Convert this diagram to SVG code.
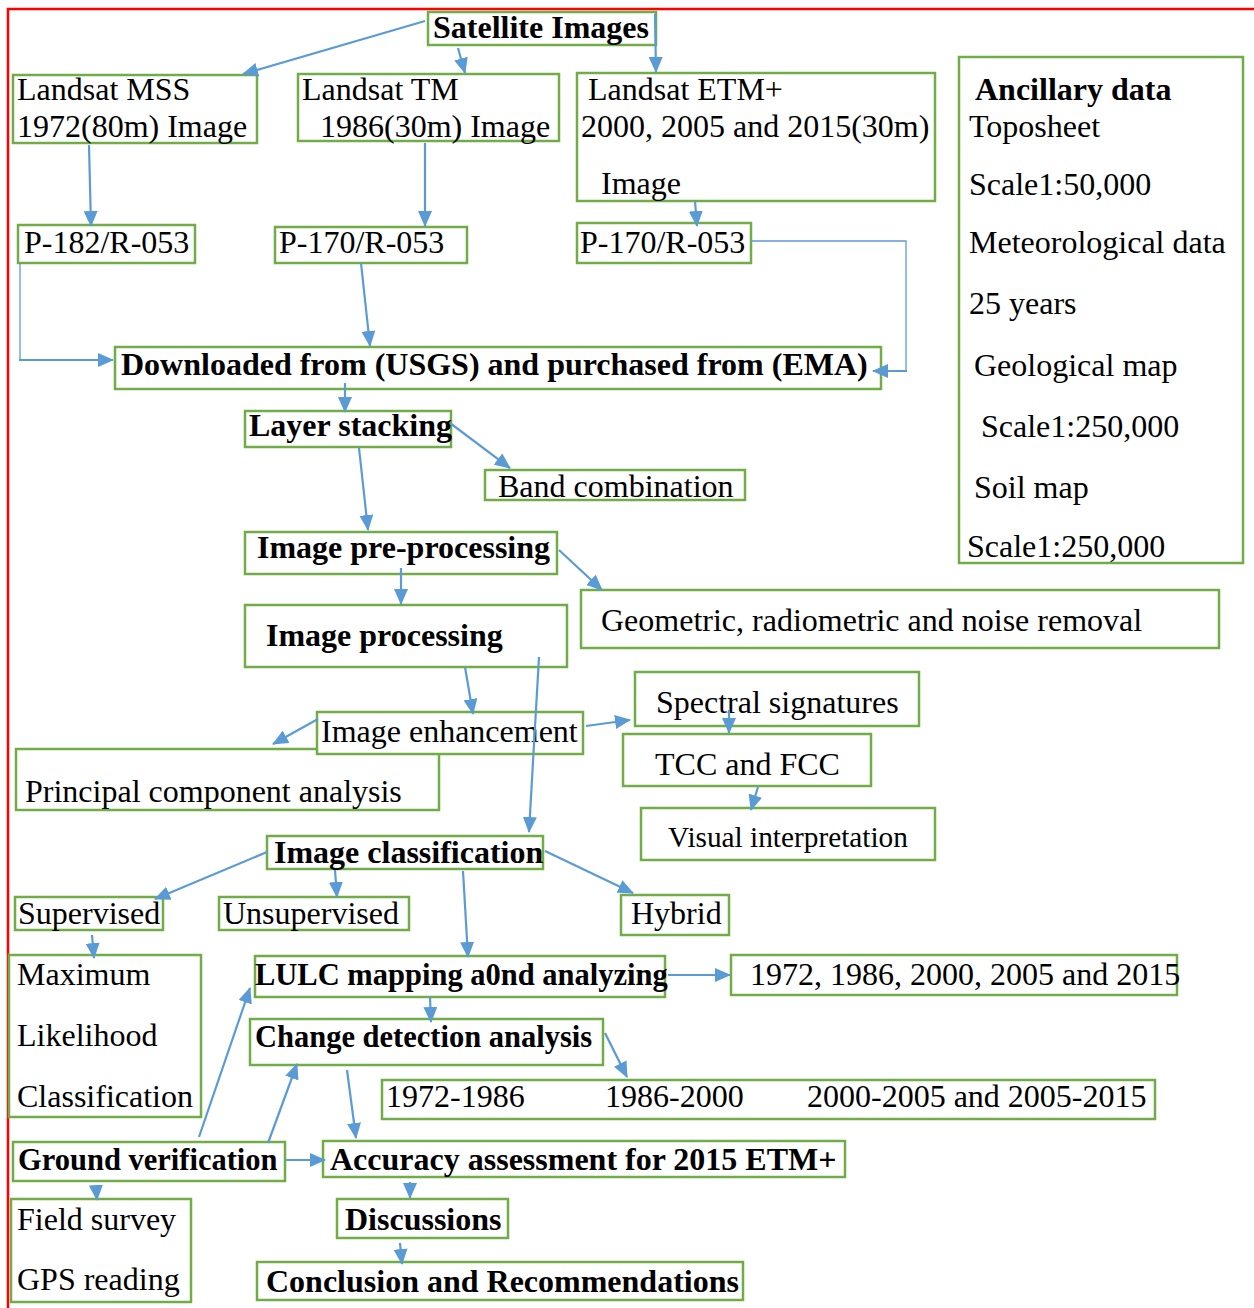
<svg xmlns="http://www.w3.org/2000/svg" width="1254" height="1308" viewBox="0 0 1254 1308">
<style>
.box{fill:#fff;stroke:#70AD47;stroke-width:2.5}
.t{font-family:"Liberation Serif","Times New Roman",serif;font-size:32px;fill:#000}
.b{font-weight:bold}
.s{font-size:30.5px}
.c{stroke:#5B9BD5;stroke-width:2.2;fill:none;marker-end:url(#ah)}
.thin{stroke:#5B9BD5;stroke-width:1.3;fill:none}
</style>
<defs>
<marker id="ah" markerUnits="userSpaceOnUse" markerWidth="16" markerHeight="14" refX="15" refY="7" orient="auto">
<path d="M0,0 L16,7 L0,14 z" fill="#5B9BD5"/>
</marker>
</defs>
<rect width="1254" height="1308" fill="#fff"/>
<path d="M1254,9 H8 V1308" fill="none" stroke="#FF0000" stroke-width="2.5"/>

<g id="satellite"><rect class="box" x="428" y="12" width="228" height="33"/><text class="t b" x="433" y="38">Satellite Images</text></g>
<g id="mss"><rect class="box" x="13" y="75" width="244" height="68"/><text class="t" x="17" y="100">Landsat MSS</text><text class="t" x="17" y="137">1972(80m) Image</text></g>
<g id="tm"><rect class="box" x="298" y="74" width="261" height="67"/><text class="t" x="302" y="100">Landsat TM</text><text class="t" x="320" y="137">1986(30m) Image</text></g>
<g id="etm"><rect class="box" x="577" y="73" width="358" height="128"/><text class="t" x="588" y="100">Landsat ETM+</text><text class="t" x="581" y="137">2000, 2005 and 2015(30m)</text><text class="t" x="601" y="194">Image</text></g>
<g id="ancillary"><rect class="box" x="959" y="57" width="284" height="506"/>
<text class="t b" x="975" y="100">Ancillary data</text>
<text class="t" x="969" y="137">Toposheet</text>
<text class="t" x="969" y="195">Scale1:50,000</text>
<text class="t" x="969" y="253">Meteorological data</text>
<text class="t" x="969" y="314">25 years</text>
<text class="t" x="974" y="376">Geological map</text>
<text class="t" x="981" y="437">Scale1:250,000</text>
<text class="t" x="974" y="498">Soil map</text>
<text class="t" x="967" y="557">Scale1:250,000</text></g>
<g id="p182"><rect class="box" x="18" y="225" width="177" height="38"/><text class="t" x="24" y="253">P-182/R-053</text></g>
<g id="p170a"><rect class="box" x="275" y="227" width="192" height="36"/><text class="t" x="279" y="253">P-170/R-053</text></g>
<g id="p170b"><rect class="box" x="577" y="223" width="174" height="40"/><text class="t" x="580" y="253">P-170/R-053</text></g>
<g id="downloaded"><rect class="box" x="115" y="347" width="766" height="42"/><text class="t b" x="121" y="375">Downloaded from (USGS) and purchased from (EMA)</text></g>
<g id="layer"><rect class="box" x="245" y="411" width="206" height="36"/><text class="t b" x="249" y="436">Layer stacking</text></g>
<g id="band"><rect class="box" x="485" y="470" width="260" height="30"/><text class="t" x="498" y="497">Band combination</text></g>
<g id="preproc"><rect class="box" x="245" y="532" width="312" height="42"/><text class="t b" x="257" y="558">Image pre-processing</text></g>
<g id="geometric"><rect class="box" x="581" y="590" width="638" height="58"/><text class="t" x="601" y="631">Geometric, radiometric and noise removal</text></g>
<g id="processing"><rect class="box" x="245" y="605" width="322" height="62"/><text class="t b" x="266" y="646">Image processing</text></g>
<g id="pca"><rect class="box" x="16" y="749" width="423" height="61"/><text class="t" x="25" y="802">Principal component analysis</text></g>
<g id="enhancement"><rect class="box" x="317" y="712" width="266" height="42"/><text class="t" x="321" y="742">Image enhancement</text></g>
<g id="spectral"><rect class="box" x="635" y="672" width="284" height="54"/><text class="t" x="656" y="713">Spectral signatures</text></g>
<g id="tcc"><rect class="box" x="623" y="734" width="248" height="52"/><text class="t" x="655" y="775">TCC and FCC</text></g>
<g id="visual"><rect class="box" x="641" y="808" width="294" height="52"/><text class="t" x="668" y="847" style="font-size:29.3px">Visual interpretation</text></g>
<g id="classification"><rect class="box" x="267" y="836" width="276" height="33"/><text class="t b" x="274" y="863">Image classification</text></g>
<g id="supervised"><rect class="box" x="15" y="897" width="148" height="33"/><text class="t" x="18" y="924">Supervised</text></g>
<g id="unsupervised"><rect class="box" x="219" y="897" width="190" height="33"/><text class="t" x="223" y="924">Unsupervised</text></g>
<g id="hybrid"><rect class="box" x="621" y="895" width="108" height="40"/><text class="t" x="631" y="924">Hybrid</text></g>
<g id="mlc"><rect class="box" x="9" y="955" width="192" height="162"/><text class="t" x="17" y="985">Maximum</text><text class="t" x="17" y="1046">Likelihood</text><text class="t" x="17" y="1107">Classification</text></g>
<g id="lulc"><rect class="box" x="255" y="956" width="410" height="41"/><text class="t b s" x="255" y="985">LULC mapping a0nd analyzing</text></g>
<g id="years"><rect class="box" x="731" y="955" width="446" height="40"/><text class="t" x="750" y="985">1972, 1986, 2000, 2005 and 2015</text></g>
<g id="change"><rect class="box" x="250" y="1019" width="353" height="46"/><text class="t b s" x="255" y="1047">Change detection analysis</text></g>
<g id="periods"><rect class="box" x="382" y="1080" width="773" height="39"/><text class="t" x="386" y="1107">1972-1986</text><text class="t" x="605" y="1107">1986-2000</text><text class="t" x="807" y="1107">2000-2005 and 2005-2015</text></g>
<g id="ground"><rect class="box" x="13" y="1142" width="272" height="39"/><text class="t b s" x="18" y="1170">Ground verification</text></g>
<g id="accuracy"><rect class="box" x="323" y="1141" width="522" height="36"/><text class="t b" x="330" y="1170">Accuracy assessment for 2015 ETM+</text></g>
<g id="field"><rect class="box" x="11" y="1199" width="180" height="103"/><text class="t" x="17" y="1230">Field survey</text><text class="t" x="17" y="1290">GPS reading</text></g>
<g id="discussions"><rect class="box" x="337" y="1199" width="171" height="39"/><text class="t b" x="345" y="1230">Discussions</text></g>
<g id="conclusion"><rect class="box" x="257" y="1262" width="486" height="38"/><text class="t b" x="266" y="1292">Conclusion and Recommendations</text></g>

<g id="connectors">
<line class="c" x1="425" y1="21" x2="243" y2="74"/>
<line class="c" x1="458" y1="48" x2="465" y2="73"/>
<line class="c" x1="655" y1="14" x2="656" y2="72"/>
<line class="c" x1="89" y1="145" x2="91" y2="226"/>
<line class="c" x1="425" y1="143" x2="425" y2="226"/>
<line class="c" x1="695" y1="201" x2="697" y2="226"/>
<path class="thin" d="M20,263 V360"/>
<line class="c" x1="19" y1="360" x2="113" y2="360"/>
<line class="c" x1="361" y1="263" x2="370" y2="346"/>
<path class="thin" d="M751,241 H906 V371"/>
<line class="c" x1="907" y1="371" x2="873" y2="371"/>
<line class="c" x1="345" y1="383" x2="345" y2="412"/>
<line class="c" x1="450" y1="423" x2="510" y2="468"/>
<line class="c" x1="359" y1="448" x2="368" y2="530"/>
<line class="c" x1="401" y1="568" x2="401" y2="604"/>
<line class="c" x1="559" y1="550" x2="602" y2="590"/>
<line class="c" x1="465" y1="667" x2="473" y2="714"/>
<line class="c" x1="539" y1="657" x2="529" y2="832"/>
<line class="c" x1="318" y1="719" x2="273" y2="744"/>
<line class="c" x1="586" y1="726" x2="630" y2="720"/>
<line class="c" x1="729" y1="710" x2="729" y2="733"/>
<line class="c" x1="758" y1="787" x2="751" y2="810"/>
<line class="c" x1="267" y1="852" x2="155" y2="899"/>
<line class="c" x1="335" y1="870" x2="337" y2="897"/>
<line class="c" x1="463" y1="871" x2="468" y2="957"/>
<line class="c" x1="545" y1="851" x2="633" y2="893"/>
<line class="c" x1="92" y1="935" x2="94" y2="958"/>
<line class="c" x1="430" y1="997" x2="431" y2="1022"/>
<line class="c" x1="668" y1="975" x2="730" y2="975"/>
<line class="c" x1="605" y1="1033" x2="627" y2="1077"/>
<line class="c" x1="199" y1="1137" x2="250" y2="988"/>
<line class="c" x1="268" y1="1143" x2="297" y2="1064"/>
<line class="c" x1="347" y1="1070" x2="356" y2="1138"/>
<line class="c" x1="286" y1="1160" x2="325" y2="1160"/>
<line class="c" x1="96" y1="1186" x2="97" y2="1200"/>
<line class="c" x1="410" y1="1182" x2="410" y2="1198"/>
<line class="c" x1="400" y1="1243" x2="402" y2="1264"/>
</g>
</svg>
